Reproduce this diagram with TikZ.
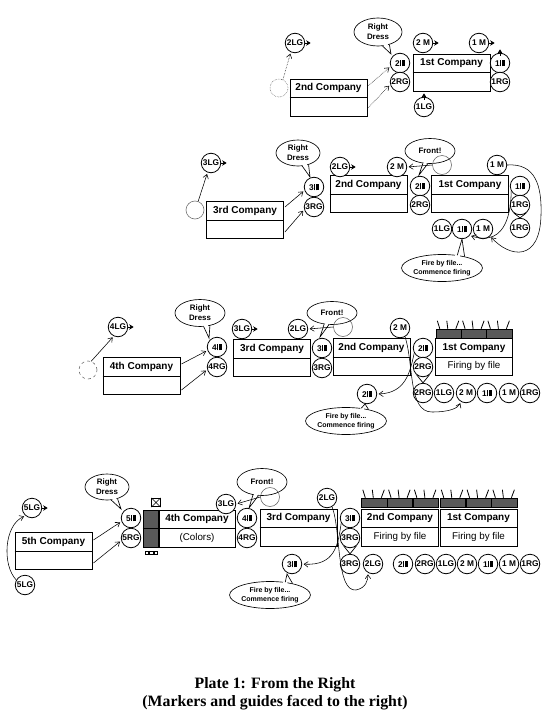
\documentclass[tikz,border=0pt]{standalone}
\usepackage{fontspec}
\setsansfont{Liberation Sans}
\newfontfamily\titlefont{Liberation Serif}
\usetikzlibrary{shapes.geometric,arrows.meta,calc}
\newcommand\bars{\kern0.4pt\rule{1.3pt}{6.8pt}\kern0.7pt\rule{2.7pt}{6.8pt}}
\newcommand\cobox[5]{%
  \node[cbox] (#1) at (#2,#3) {};
  \draw[line width=0.9pt] (#1.west) -- (#1.east);
  \node[ctitle] (#1t) at ($(#1.center)+(0,-9.3)$) {#4};
  \node[csub] (#1s) at ($(#1.center)+(0,9.3)$) {#5};}
\newcommand\faceR[1]{\draw[face] (#1.east) -- ++(5.5,0);}
\newcommand\faceU[1]{\draw[face] ($(#1.north)+(0,3)$) -- ++(0,-6.5);}
\newcommand\vdown[2]{\draw[line width=0.7pt] (#1.-128) -- (#2.north) -- (#1.-52);}
\newcommand\btail[4]{%
  \fill[white] ($(#1.#2)!0.22!(#1.center)$) -- (#4) -- ($(#1.#3)!0.22!(#1.center)$) -- cycle;
  \draw[line width=0.65pt] (#1.#2) -- (#4) -- (#1.#3);}
\newcommand\spk[1]{%
  \draw[line width=0.8pt] ($(#1.north west)+(4,0)$) -- ++(-2.5,-8)
    ($(#1.north west)+(12,0)$) -- ++(-1,-8)
    ($(#1.north west)+(20,0)$) -- ++(3,-8);}
\begin{document}
\begin{tikzpicture}[x=1pt,y=-1pt,
  mk/.style={circle, draw, line width=0.8pt, minimum size=19.5pt, inner sep=0pt, fill=white,
    font=\sffamily\bfseries\fontsize{8.3}{8.3}\selectfont},
  cbox/.style={draw, line width=0.9pt, minimum width=77pt, minimum height=37pt, inner sep=0pt},
  ctitle/.style={inner sep=0pt, font=\sffamily\bfseries\fontsize{10}{10}\selectfont},
  csub/.style={inner sep=0pt, font=\sffamily\fontsize{9.8}{10}\selectfont},
  bub/.style={ellipse, draw, line width=0.65pt, fill=white, inner sep=0pt, align=center,
    font=\sffamily\bfseries\fontsize{7.9}{10}\selectfont},
  fbub/.style={bub, minimum width=68pt, minimum height=27pt,
    font=\sffamily\bfseries\fontsize{7}{9}\selectfont},
  arr/.style={-{Straight Barb[length=4pt,width=5.5pt]}, line width=0.55pt, shorten >=1.5pt},
  face/.style={-{Stealth[length=4.5pt,width=5.5pt]}, line width=0.6pt},
  dcirc/.style={circle, draw=black!55, line width=0.6pt, minimum size=18pt, inner sep=0pt},
  scirc/.style={circle, draw=black!65, line width=0.5pt, minimum size=19pt, inner sep=0pt},
  blk/.style={draw, line width=0.5pt, fill=black!65, minimum width=25.3pt, minimum height=9pt, inner sep=0pt},
  ttl/.style={inner sep=0pt, font=\titlefont\bfseries\fontsize{15.8}{18}\selectfont}]
\useasboundingbox (0,0) rectangle (550,720);

% ---------------- Section 1 ----------------
\node[dcirc, densely dotted] (s1dc) at (279,88) {};
\cobox{s1c2}{328.5}{97.5}{2nd Company}{}
\cobox{s1c1}{451.5}{72.5}{1st Company}{}
\node[bub, minimum width=48pt, minimum height=28pt] (s1rd) at (378,32) {Right\\Dress};
\btail{s1rd}{-72}{-48}{391,54}
\node[mk] (s1lg2) at (295,43) {2LG};
\node[mk] (s1g2) at (400,63) {2\bars};
\node[mk] (s1rg2) at (400,82) {2RG};
\node[mk] (s1mk2) at (423,43) {2 M};
\node[mk] (s1mk1) at (479,43) {1 M};
\node[mk] (s1g1) at (500,63) {1\bars};
\node[mk] (s1rg1) at (500,82) {1RG};
\node[mk] (s1lg1) at (424,107) {1LG};
\faceR{s1lg2} \faceR{s1mk2} \faceR{s1mk1}
\faceU{s1g1} \faceU{s1lg1}
\draw[arr, densely dotted] (s1dc.65) -- (s1lg2.-115);
\draw[arr, densely dotted] ($(s1c2.east)+(1,-12)$) -- (s1g2.-160);
\draw[arr, densely dotted] ($(s1c2.east)+(1,10)$) -- (s1rg2.-165);

% ---------------- Section 2 ----------------
\node[dcirc] (s2dc) at (195,210) {};
\cobox{s2c3}{245}{220}{3rd Company}{}
\cobox{s2c2}{368.5}{194}{2nd Company}{}
\cobox{s2c1}{470}{194}{1st Company}{}
\node[bub, minimum width=44pt, minimum height=26pt] (s2rd) at (298,153) {Right\\Dress};
\btail{s2rd}{-72}{-48}{310,177}
\node[bub, minimum width=50pt, minimum height=25pt] (s2fr) at (430,151) {Front!};
\btail{s2fr}{-120}{-100}{419,175}
\node[scirc] (s2sc) at (442,165) {};
\node[mk] (s2lg3) at (211,163) {3LG};
\node[mk] (s2g3) at (314,187) {3\bars};
\node[mk] (s2rg3) at (314,207) {3RG};
\node[mk] (s2lg2) at (340,167) {2LG};
\node[mk] (s2mk2) at (397,167) {2 M};
\node[mk] (s2g2) at (420,186) {2\bars};
\node[mk] (s2rg2) at (420,205) {2RG};
\node[mk] (s2mk1) at (497,165) {1 M};
\node[mk] (s2g1) at (520,186) {1\bars};
\node[mk] (s2rg1) at (520,205) {1RG};
\node[mk] (s2rg1b) at (520,228) {1RG};
\node[mk] (s2lg1b) at (442,229) {1LG};
\node[mk] (s2g1b) at (462,229) {1\bars};
\node[mk] (s2mk1b) at (483,229) {1 M};
\faceR{s2lg3} \faceR{s2lg2}
\vdown{s2rg1}{s2rg1b}
\draw[arr] (s2dc.70) -- (s2lg3.-110);
\draw[arr] ($(s2c3.east)+(1,-13)$) -- (s2g3.-160);
\draw[arr] ($(s2c3.east)+(1,12)$) -- (s2rg3.-165);
\draw[arr] (s2sc.west) -- (s2mk2.east);
\draw[arr] (s2g1.-150) .. controls (511,205) and (509,248) .. (s2g1b.-40);
\draw[arr] (s2mk1.east) .. controls (535,163) and (542,185) .. (541,215)
  .. controls (540,262) and (510,258) .. (s2mk1b.-45);
\node[fbub] (s2fb) at (442,268) {Fire by file...\\Commence firing};
\btail{s2fb}{40}{27}{462,239}

% ---------------- Section 3 ----------------
\node[dcirc, dashed] (s3dc) at (88,370) {};
\cobox{s3c4}{141.5}{376}{4th Company}{}
\cobox{s3c3}{272}{358}{3rd Company}{}
\cobox{s3c2}{371.5}{357}{2nd Company}{}
\cobox{s3c1}{474}{357}{1st Company}{Firing by file}
\node[blk] (s3b1) at (448.7,333.5) {};
\node[blk] (s3b2) at (474,333.5) {};
\node[blk] (s3b3) at (499.3,333.5) {};
\spk{s3b1} \spk{s3b2} \spk{s3b3}
\node[bub, minimum width=50pt, minimum height=27pt] (s3rd) at (200,313) {Right\\Dress};
\btail{s3rd}{-75}{-52}{209,338}
\node[bub, minimum width=50pt, minimum height=23pt] (s3fr) at (332,313) {Front!};
\btail{s3fr}{-125}{-105}{320,337}
\node[scirc] (s3sc) at (343,327) {};
\node[mk] (s3lg4) at (118,327) {4LG};
\node[mk] (s3g4) at (217,347) {4\bars};
\node[mk] (s3rg4) at (217,367) {4RG};
\node[mk] (s3lg3) at (242,329) {3LG};
\node[mk] (s3lg2) at (298,329) {2LG};
\node[mk] (s3g3) at (322,348) {3\bars};
\node[mk] (s3rg3) at (322,368) {3RG};
\node[mk] (s3mk2) at (400,328) {2 M};
\node[mk] (s3g2) at (423,348) {2\bars};
\node[mk] (s3rg2) at (423,367) {2RG};
\node[mk] (s3rg2b) at (423,393) {2RG};
\node[mk] (s3lg1b) at (444,393) {1LG};
\node[mk] (s3mk2b) at (466,393) {2 M};
\node[mk] (s3g1b) at (487,393) {1\bars};
\node[mk] (s3mk1b) at (509,393) {1 M};
\node[mk] (s3rg1b) at (530,393) {1RG};
\node[mk] (s3g2b) at (367,394) {2\bars};
\faceR{s3lg4} \faceR{s3lg3}
\vdown{s3rg2}{s3rg2b}
\draw[arr] (s3dc.70) -- (s3lg4.-115);
\draw[arr] ($(s3c4.east)+(1,-12)$) -- (s3g4.-160);
\draw[arr] ($(s3c4.east)+(1,14)$) -- (s3rg4.-165);
\draw[arr] (s3sc.west) -- (s3lg2.east);
\draw[arr] (s3g2.-150) .. controls (410,372) and (406,393) .. (s3g2b.east);
\draw[arr] (s3mk2.-60) .. controls (414,365) and (408,412) .. (432,412)
  .. controls (450,412) and (458,408) .. (s3mk2b.-120);
\node[fbub] (s3fb) at (346,421) {Fire by file...\\Commence firing};
\btail{s3fb}{40}{27}{365,404}

% ---------------- Section 4 ----------------
\cobox{s4c5}{53.5}{551}{5th Company}{}
\node[draw, line width=0.6pt, fill=black!65, minimum width=16pt, minimum height=37pt, inner sep=0pt] (s4col) at (151,528.5) {};
\cobox{s4c4}{197}{528.5}{4th Company}{(Colors)}
\draw[line width=0.8pt] (s4col.west) -- (s4c4.west);
\node[draw, line width=0.7pt, fill=white, minimum size=8.5pt, inner sep=0pt] (s4flag) at (156,502.5) {};
\draw[line width=0.6pt] (s4flag.north west) -- (s4flag.south east) (s4flag.north east) -- (s4flag.south west);
\node[draw, line width=0.4pt, minimum size=3.4pt, inner sep=0pt] (s4q1) at (146.5,552.5) {};
\node[draw, line width=0.4pt, minimum size=3.4pt, inner sep=0pt] (s4q2) at (151,552.5) {};
\node[draw, line width=0.4pt, minimum size=3.4pt, inner sep=0pt] (s4q3) at (155.5,552.5) {};
\cobox{s4c3}{298.5}{527.5}{3rd Company}{}
\cobox{s4c2}{400}{527.5}{2nd Company}{Firing by file}
\cobox{s4c1}{478.5}{527.5}{1st Company}{Firing by file}
\node[blk] (s4b1) at (374.2,502.5) {};
\node[blk] (s4b2) at (400,502.5) {};
\node[blk] (s4b3) at (425.8,502.5) {};
\node[blk] (s4b4) at (452.7,502.5) {};
\node[blk] (s4b5) at (478.5,502.5) {};
\node[blk] (s4b6) at (504.3,502.5) {};
\spk{s4b1} \spk{s4b2} \spk{s4b3} \spk{s4b4} \spk{s4b5} \spk{s4b6}
\node[bub, minimum width=44pt, minimum height=26pt] (s4rd) at (107,487) {Right\\Dress};
\btail{s4rd}{-72}{-48}{121,509}
\node[bub, minimum width=50pt, minimum height=27pt] (s4fr) at (262,482) {Front!};
\btail{s4fr}{-125}{-105}{249,508}
\node[scirc] (s4sc) at (270,497) {};
\node[mk] (s4lg5) at (32,508) {5LG};
\node[mk] (s4lg5b) at (25,585) {5LG};
\node[mk] (s4g5) at (131,518) {5\bars};
\node[mk] (s4rg5) at (131,538) {5RG};
\node[mk] (s4lg3) at (226,504) {3LG};
\node[mk] (s4g4) at (247,518) {4\bars};
\node[mk] (s4rg4) at (247,538) {4RG};
\node[mk] (s4lg2) at (327,498) {2LG};
\node[mk] (s4g3) at (350,518) {3\bars};
\node[mk] (s4rg3) at (350,538) {3RG};
\node[mk] (s4rg3b) at (350,564) {3RG};
\node[mk] (s4lg2b) at (373,564) {2LG};
\node[mk] (s4g2b) at (403,564) {2\bars};
\node[mk] (s4rg2b) at (425,564) {2RG};
\node[mk] (s4lg1b) at (446,564) {1LG};
\node[mk] (s4mk2b) at (467,564) {2 M};
\node[mk] (s4g1b) at (488,564) {1\bars};
\node[mk] (s4mk1b) at (509,564) {1 M};
\node[mk] (s4rg1b) at (530,564) {1RG};
\node[mk] (s4g3c) at (292,564) {3\bars};
\faceR{s4lg5}
\vdown{s4rg3}{s4rg3b}
\draw[arr] (s4lg5b.150) .. controls (2,565) and (4,525) .. (s4lg5.-130);
\draw[arr] ($(s4c5.east)+(1,-11)$) -- (s4g5.-160);
\draw[arr] ($(s4c5.east)+(1,12)$) -- (s4rg5.-165);
\draw[arr] (s4sc.west) -- (s4lg3.east);
\draw[arr] (s4g3.-150) .. controls (338,545) and (335,566) .. (s4g3c.east);
\draw[arr] (s4lg2.-60) .. controls (341,530) and (336,592) .. (356,590)
  .. controls (366,588) and (368,580) .. (s4lg2b.-120);
\node[fbub] (s4fb) at (270,595) {Fire by file...\\Commence firing};
\btail{s4fb}{40}{27}{287,574}

% ---------------- Title ----------------
\node[ttl] (t1) at (275,685) {Plate 1: From the Right};
\node[ttl] (t2) at (275,703) {(Markers and guides faced to the right)};
\end{tikzpicture}
\end{document}
